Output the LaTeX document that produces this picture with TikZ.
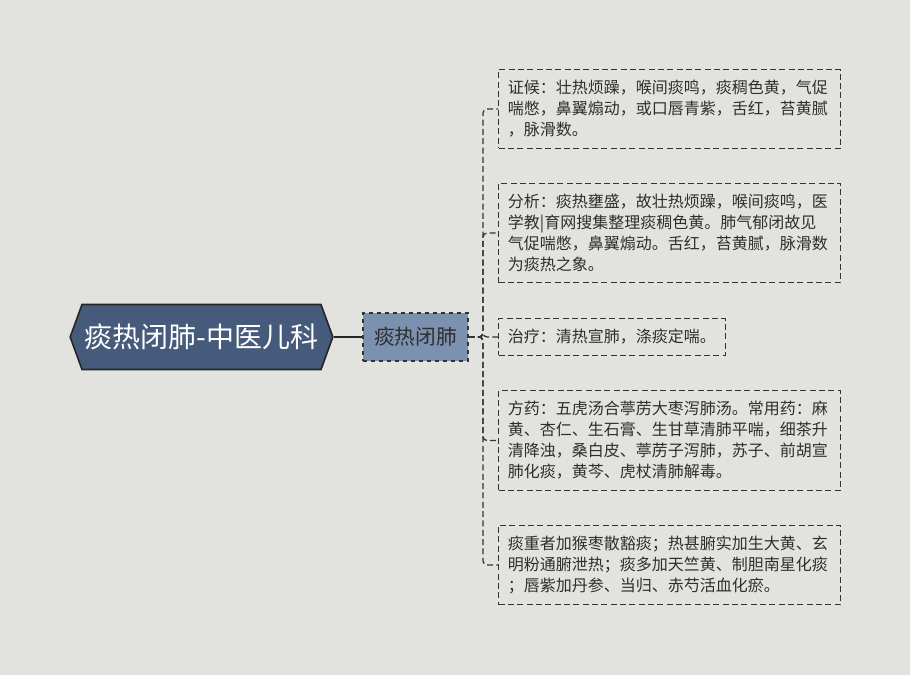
\documentclass[tikz,border=0pt]{standalone}
\usepackage{fontspec}
\setmainfont{Noto Sans CJK SC}
\usepackage{xcolor}
\usetikzlibrary{shapes.symbols}
\definecolor{bgcol}{HTML}{E2E3DF}
\definecolor{rootcol}{HTML}{465B7B}
\definecolor{midcol}{HTML}{7C90AF}
\definecolor{txtcol}{HTML}{2E2E2E}

\begin{document}
\begin{tikzpicture}[x=0.75pt, y=-0.75pt,
    root/.style={signal, signal to=west and east, signal pointer angle=140, draw=black!85, fill=rootcol, line width=1.2pt, text=white, font=\fontsize{21}{25}\selectfont, minimum width=197pt, minimum height=48.75pt, inner xsep=0pt},
    topic/.style={draw=black!80, fill=midcol, dashed, line width=0.9pt, text=txtcol, font=\fontsize{15.5}{18}\selectfont, minimum width=78.75pt, minimum height=36pt},
    leaf/.style={draw=black!80, dash pattern=on 4.5pt off 2.5pt, line width=0.95pt, anchor=west, align=left, text=txtcol, font=\fontsize{12}{15.75}\selectfont, inner xsep=7pt, inner ysep=8pt},
    wide/.style={leaf, text width=242.5pt},
    link/.style={draw=black!80, dash pattern=on 4.5pt off 2.5pt, line width=0.95pt, rounded corners=3pt}]

    \fill[bgcol] (0,0) rectangle (910,675);
    \useasboundingbox (0,0) rectangle (910,675);

    % Nodes
    \node[root] (root) at (201.5,337) {痰热闭肺-中医儿科};
    \node[topic] (mid) at (415.5,337) {痰热闭肺};
    \coordinate (trunk) at (483,337);

    \node[wide] (b1) at (498,109) {证候：壮热烦躁，喉间痰鸣，痰稠色黄，气促\\喘憋，鼻翼煽动，或口唇青紫，舌红，苔黄腻\\，脉滑数。};
    \node[wide] (b2) at (498,233) {分析：痰热壅盛，故壮热烦躁，喉间痰鸣，医\\学教|育网搜集整理痰稠色黄。肺气郁闭故见\\气促喘憋，鼻翼煽动。舌红，苔黄腻，脉滑数\\为痰热之象。};
    \node[leaf] (b3) at (498,337) {治疗：清热宣肺，涤痰定喘。};
    \node[wide] (b4) at (498,440.5) {方药：五虎汤合葶苈大枣泻肺汤。常用药：麻\\黄、杏仁、生石膏、生甘草清肺平喘，细茶升\\清降浊，桑白皮、葶苈子泻肺，苏子、前胡宣\\肺化痰，黄芩、虎杖清肺解毒。};
    \node[wide] (b5) at (498,565) {痰重者加猴枣散豁痰；热甚腑实加生大黄、玄\\明粉通腑泄热；痰多加天竺黄、制胆南星化痰\\；唇紫加丹参、当归、赤芍活血化瘀。};

    % Edges
    \draw[draw=black!85, line width=1.2pt] (root) -- (mid);
    \foreach \b in {b1,b2,b3,b4,b5}
        \draw[link] (mid.east) -- (trunk) |- (\b.west);

\end{tikzpicture}
\end{document}
